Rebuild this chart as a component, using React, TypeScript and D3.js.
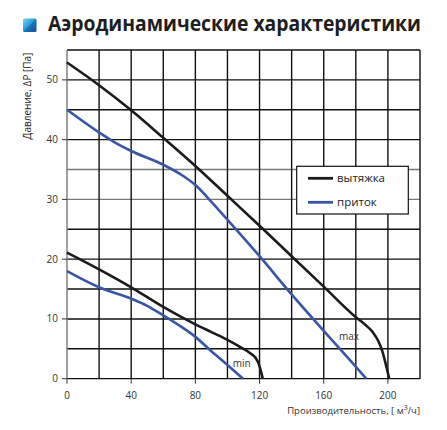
import React from "react";
import * as d3 from "d3";

const title = "Аэродинамические характеристики";
const yLabel = "Давление, ΔP [Па]";
const xLabelMain = "Производительность, [ м";
const xLabelSup = "3";
const xLabelEnd = "/ч]";

const xTickLabels = [0, 40, 80, 120, 160, 200];
const yTickLabels = [0, 10, 20, 30, 40, 50];
const xGrid = [0, 20, 40, 60, 80, 100, 120, 140, 160, 180, 200, 220];
const yGrid = [0, 5, 10, 15, 20, 25, 30, 35, 40, 45, 50, 55];
const yGridLight = [30, 35];

const exhaustMax: [number, number][] = [
  [0, 52.9], [20, 49.1], [40, 44.9], [60, 40.3], [80, 35.6], [100, 30.6],
  [120, 25.6], [140, 20.5], [160, 15.4], [180, 10.3], [186, 9.0], [190.5, 7.8],
  [194, 6.3], [196.5, 4.6], [198.6, 2.5], [200.8, 0],
];
const supplyMax: [number, number][] = [
  [0, 45], [20, 41.2], [30, 39.5], [40, 38.1], [60, 35.8], [72, 34.0],
  [80, 32.4], [91, 29.3], [100, 26.6], [120, 20.5], [140, 14.1], [160, 8.0],
  [180, 2.0], [186.5, 0],
];
const exhaustMin: [number, number][] = [
  [0, 21.1], [20, 18.3], [40, 15.3], [60, 12.0], [70, 10.5], [80, 9.1],
  [90, 7.8], [100, 6.5], [108.6, 5.2], [114, 4.3], [117.5, 3.5], [119.6, 2.4],
  [121, 1.1], [122, 0],
];
const supplyMin: [number, number][] = [
  [0, 18.0], [20, 15.3], [40, 13.4], [50, 12.2], [60, 10.6], [70, 8.9],
  [80, 7.0], [90, 4.6], [100, 2.3], [109.7, 0],
];

const legendItems = [
  { label: "вытяжка", color: "#1b1b1b" },
  { label: "приток", color: "#3a55a6" },
];
const curveLabels = [
  { text: "max", x: 169.5, y: 7 },
  { text: "min", x: 103.3, y: 2.6 },
];

const W = 447;
const H = 430;
const L = 67, R = 420, T = 50, B = 378.7;
const FONT = "'Open Sans', 'Noto Sans', sans-serif";

export default function App() {
  const x = d3.scaleLinear().domain([0, 220]).range([L, R]);
  const y = d3.scaleLinear().domain([0, 55]).range([B, T]);
  const line = d3
    .line<[number, number]>()
    .x((d) => x(d[0]))
    .y((d) => y(d[1]))
    .curve(d3.curveMonotoneX);

  const series = [
    { data: exhaustMax, color: legendItems[0].color },
    { data: supplyMax, color: legendItems[1].color },
    { data: exhaustMin, color: legendItems[0].color },
    { data: supplyMin, color: legendItems[1].color },
  ];

  return (
    <svg
      width={W}
      height={H}
      style={{ position: "absolute", left: 0, top: 0, background: "#fff" }}
      fontFamily={FONT}
    >
      <defs>
        <linearGradient id="ic" x1="0" y1="0" x2="1" y2="1">
          <stop offset="0" stopColor="#7fd3f0" />
          <stop offset="0.45" stopColor="#2aa0d8" />
          <stop offset="0.55" stopColor="#1a6fb6" />
          <stop offset="1" stopColor="#1d4f96" />
        </linearGradient>
      </defs>
      <rect x={23} y={18.5} width={13.5} height={13.5} rx={1.5} fill="url(#ic)" />
      <text
        x={48}
        y={30.7}
        fontSize={20.5}
        fontWeight={700}
        fill="#1e1e1e"
        textLength={373}
        lengthAdjust="spacingAndGlyphs"
      >
        {title}
      </text>

      {/* grid */}
      {yGrid.map((v) => (
        <line
          key={"yg" + v}
          x1={L}
          x2={R}
          y1={y(v)}
          y2={y(v)}
          stroke={yGridLight.includes(v) ? "#7a7a7a" : "#111"}
          strokeWidth={v === 0 ? 1.2 : 1.4}
        />
      ))}
      {xGrid.map((v) => (
        <line
          key={"xg" + v}
          x1={x(v)}
          x2={x(v)}
          y1={T}
          y2={B}
          stroke={v === 0 ? "#777" : "#111"}
          strokeWidth={1.4}
        />
      ))}

      {/* ticks */}
      {yTickLabels.map((v) => (
        <g key={"yt" + v}>
          <line x1={L - 5} x2={L} y1={y(v)} y2={y(v)} stroke="#333" strokeWidth={1} />
          <text
            x={L - 9}
            y={y(v)}
            dy="0.35em"
            textAnchor="end"
            fontSize={10}
            fill="#333"
          >
            {v}
          </text>
        </g>
      ))}
      {xTickLabels.map((v) => (
        <g key={"xt" + v}>
          <line x1={x(v)} x2={x(v)} y1={B} y2={B + 5} stroke="#333" strokeWidth={1} />
          <text x={x(v)} y={B + 20} textAnchor="middle" fontSize={10} fill="#333">
            {v}
          </text>
        </g>
      ))}

      {/* curves */}
      {series.map((s, i) => (
        <path
          key={"s" + i}
          d={line(s.data) || ""}
          fill="none"
          stroke={s.color}
          strokeWidth={2.6}
          strokeLinejoin="round"
        />
      ))}

      {curveLabels.map((c) => (
        <text
          key={c.text}
          x={x(c.x)}
          y={y(c.y)}
          dy="0.35em"
          fontSize={10}
          fill="#333"
        >
          {c.text}
        </text>
      ))}

      {/* legend */}
      <rect x={296.7} y={166.3} width={111.6} height={47.7} fill="#fff" stroke="#111" strokeWidth={1.2} />
      {legendItems.map((it, i) => (
        <g key={it.label}>
          <line
            x1={308}
            x2={333}
            y1={178.3 + i * 24}
            y2={178.3 + i * 24}
            stroke={it.color}
            strokeWidth={2.8}
          />
          <text x={337} y={178.3 + i * 24} dy="0.35em" fontSize={11.5} fill="#222">
            {it.label}
          </text>
        </g>
      ))}

      {/* axis labels */}
      <text
        transform={`translate(31,96) rotate(-90)`}
        textAnchor="middle"
        fontSize={10}
        fill="#222"
      >
        {yLabel}
      </text>
      <text x={420} y={414} textAnchor="end" fontSize={9.5} fill="#333">
        {xLabelMain}
        <tspan dy={-4} fontSize={7}>
          {xLabelSup}
        </tspan>
        <tspan dy={4}>{xLabelEnd}</tspan>
      </text>
    </svg>
  );
}
